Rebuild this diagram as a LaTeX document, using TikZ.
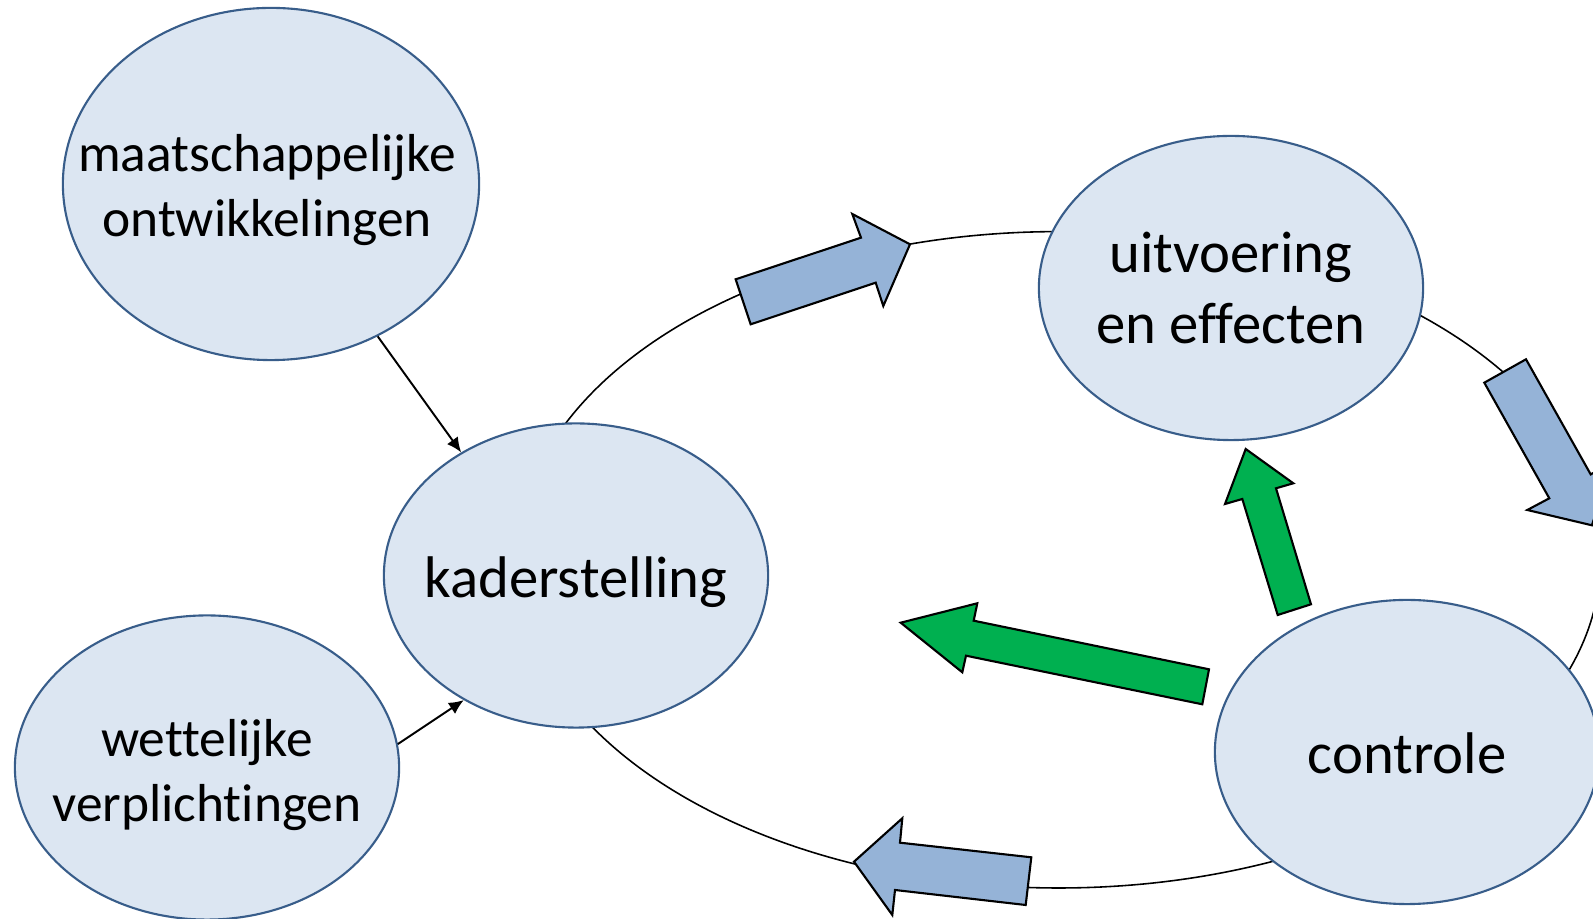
\documentclass[tikz,border=0pt]{standalone}
\usepackage{fontspec}
\setmainfont[Ligatures=NoCommon]{Carlito}
\usepackage{tikz}
\usetikzlibrary{%
	arrows.meta,%
	shapes.geometric,% wg. ellipse
	positioning%
}
\definecolor{bubblefill}{HTML}{DCE6F2}
\definecolor{bubbleline}{HTML}{385D8A}
\definecolor{flowblue}{HTML}{95B3D7}
\definecolor{checkgreen}{HTML}{00B050}

\begin{document}
\begin{tikzpicture}[
x=0.01cm,y=-0.01cm,
>={Latex[length=4.2pt,width=3.8pt]},
line join=miter,
bubble/.style={ellipse,draw=bubbleline,fill=bubblefill,line width=0.6pt,
minimum width=3.84cm,minimum height=3.04cm,inner sep=0pt},
caption/.style={align=center,inner sep=0pt,font=\fontsize{16.7}{20}\selectfont},
smallcaption/.style={caption,font=\fontsize{15.2}{18.5}\selectfont},
flowarrow/.style={draw=black,fill=flowblue,line width=0.6pt},
checkarrow/.style={draw=black,fill=checkgreen,line width=0.6pt},
cycleline/.style={draw=black,line width=0.45pt}
]
\useasboundingbox (0,0) rectangle (1593,919);
\clip (0,0) rectangle (1593,919);

% kringloop
\coordinate (mid) at (1058.6,559.8);
\draw[cycleline] (mid) ellipse [x radius=5.415cm,y radius=3.28cm];

% blokpijlen
\draw[flowarrow] (750.7,324.3) -- (735.7,279.3) -- (861,237.7) -- (852.3,214)
  -- (910,244.3) -- (883.3,306) -- (875.7,282.7) -- cycle;
\draw[flowarrow] (1484.3,382.7) -- (1526,359.3) -- (1590.7,474.4) -- (1612.5,462.2)
  -- (1591.9,525.3) -- (1527.3,510) -- (1549.3,498.3) -- cycle;
\draw[flowarrow] (854,861.7) -- (902.3,818.3) -- (900,842.7) -- (1031.3,857.3)
  -- (1025.7,905) -- (895,890) -- (892.3,915) -- cycle;
\draw[checkarrow] (1277.7,615) -- (1242.3,499) -- (1225,504) -- (1245.7,449)
  -- (1293.3,483.3) -- (1276,488.3) -- (1311,604.3) -- cycle;
\draw[checkarrow] (1209,669.3) -- (973.7,620.7) -- (977.3,603.3) -- (900.7,622.7)
  -- (962.3,672.3) -- (966,655.7) -- (1202.3,704.3) -- cycle;

% ellipsen
\node[bubble,minimum width=4.16cm,minimum height=3.52cm] (maat) at (271,184) {};
\node[bubble] (kader) at (576,575.5) {};
\node[bubble] (wett)  at (207,767.5) {};
\node[bubble] (uitv)  at (1231,288) {};
\node[bubble] (contr) at (1407,752) {};

\node[smallcaption,xshift=-1.1pt,yshift=-1.8pt] (maat-text) at (maat) {maatschappelijke\\ontwikkelingen};
\node[caption,yshift=-2pt]       (kader-text) at (kader) {kaderstelling};
\node[smallcaption,yshift=-2.1pt] (wett-text) at (wett)  {wettelijke\\verplichtingen};
\node[caption]                   (uitv-text)  at (uitv)  {uitvoering\\en effecten};
\node[caption,yshift=-0.5pt]     (contr-text) at (contr) {controle};

\draw[->,line width=0.55pt] (maat.-55) -- (kader.133);
\draw[->,line width=0.55pt] (wett.7) -- (kader.-132);
\end{tikzpicture}
\end{document}
